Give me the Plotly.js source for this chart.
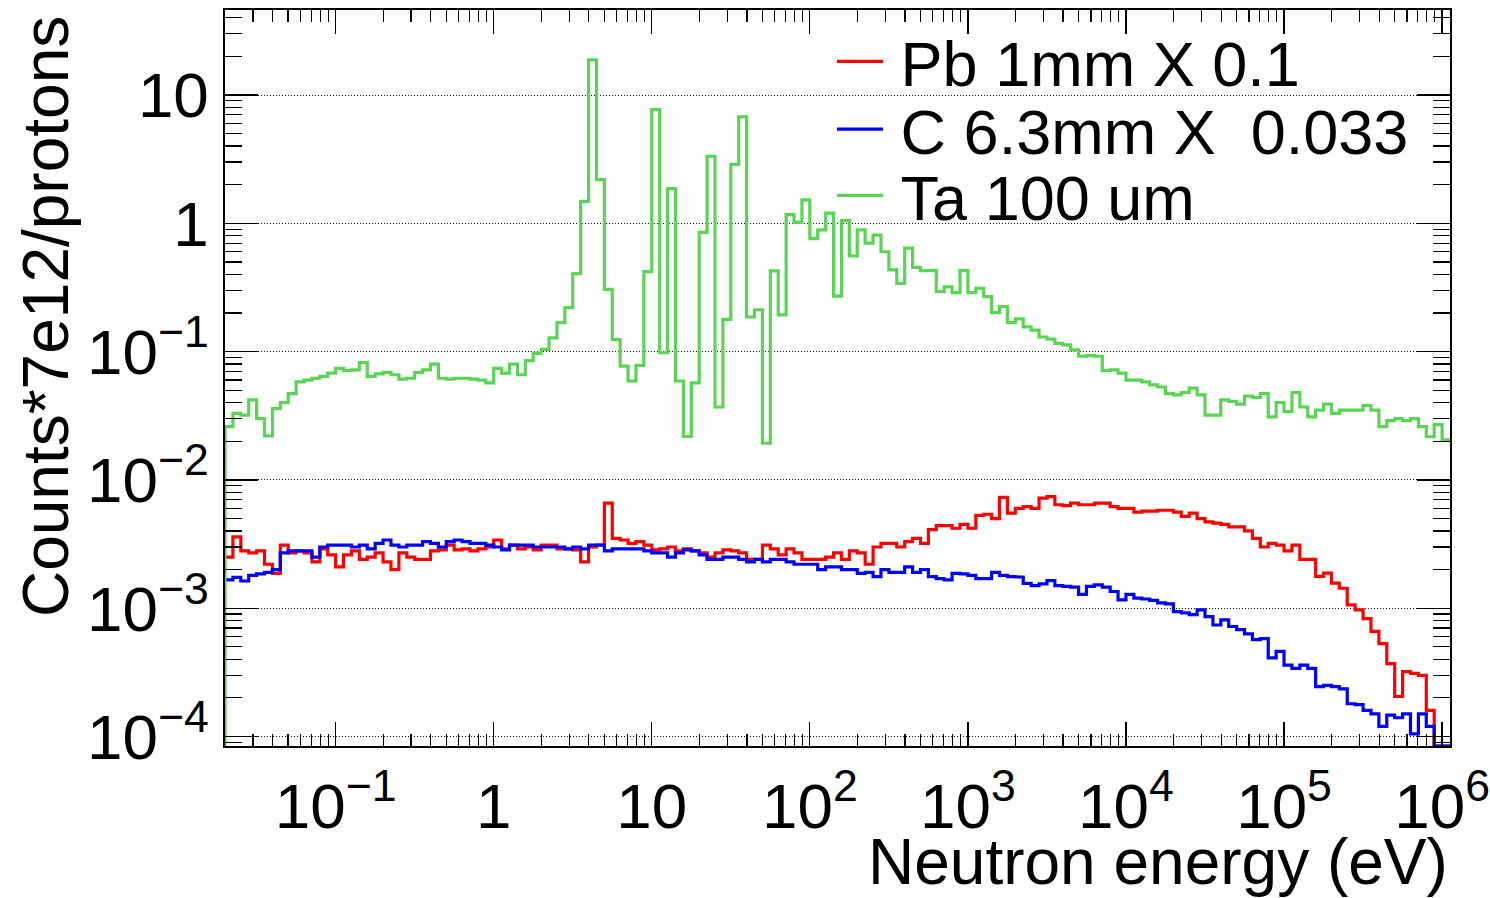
<!DOCTYPE html>
<html><head><meta charset="utf-8">
<script src="https://cdn.plot.ly/plotly-3.0.1.min.js"></script>
<style>html,body{margin:0;padding:0;background:#fff;} #chart{width:1490px;height:898px;}</style>
</head><body><div id="chart"></div>
<script>
// Histogram binning: 20 logarithmic bins per decade, first edge at 0.02 eV
const binLogStart = -1.70;
const binLogStep = 0.05;

const seriesNames = ['\u2009Pb 1mm X 0.1', '\u2009C 6.3mm X\u00a0 0.033', '\u2009Ta 100 um'];
const seriesColors = ['#ff0000', '#0000ff', '#59d454'];

// Counts*7e12/protons per bin
const pb = [
0.0025,0.0036,0.0028,0.0027,0.0028,0.0022,0.00187,0.0031,0.0027,0.0028,
0.0027,0.0023,0.0029,0.0026,0.0021,0.0026,0.0028,0.0024,0.0025,0.0027,
0.0023,0.0020,0.0027,0.0025,0.0024,0.0024,0.0028,0.00285,0.0031,0.00285,
0.0029,0.0028,0.0029,0.0030,0.0034,0.0029,0.0031,0.0029,0.0030,0.00285,
0.0031,0.0031,0.0029,0.0029,0.00285,0.0023,0.0030,0.0031,0.0066,0.0035,
0.0034,0.0032,0.0033,0.0031,0.00285,0.0029,0.0030,0.0028,0.0029,0.0028,
0.0027,0.0025,0.0027,0.00285,0.0028,0.0027,0.0024,0.0024,0.0031,0.0029,
0.0026,0.0029,0.0027,0.0024,0.0024,0.0024,0.0025,0.0027,0.0024,0.0028,
0.0027,0.0022,0.0030,0.0032,0.0032,0.0030,0.0033,0.0035,0.0032,0.0041,
0.0044,0.0044,0.0042,0.0045,0.0042,0.0053,0.0054,0.0050,0.0073,0.0055,
0.0060,0.0062,0.0060,0.0072,0.0074,0.0064,0.0063,0.0066,0.0064,0.0064,
0.0066,0.0066,0.0062,0.0060,0.0060,0.0056,0.0057,0.0057,0.0058,0.0058,
0.0056,0.0052,0.0055,0.0050,0.0047,0.0046,0.0045,0.0043,0.0043,0.0040,
0.0035,0.0030,0.0032,0.0031,0.0028,0.0031,0.0024,0.0024,0.00177,0.00188,
0.00157,0.00143,0.00106,0.00097,0.00083,0.00066,0.00053,0.00037,0.000205,0.00032,
0.00031,0.00030,0.00016,0,0
];
const c = [
0.00166,0.00174,0.00163,0.0018,0.00185,0.0019,0.0020,0.0027,0.0028,0.0028,
0.0028,0.0025,0.0030,0.0031,0.0031,0.0031,0.0030,0.0031,0.0029,0.0032,
0.0034,0.0031,0.0030,0.0031,0.0031,0.0033,0.0032,0.0030,0.0033,0.0034,
0.0033,0.0032,0.0032,0.0031,0.0030,0.00285,0.0031,0.0031,0.0031,0.0030,
0.0030,0.0030,0.0030,0.0029,0.0030,0.0029,0.0031,0.0031,0.0028,0.0029,
0.0029,0.0029,0.0029,0.0028,0.0027,0.0027,0.0025,0.0027,0.00285,0.0028,
0.0026,0.0024,0.0024,0.0025,0.0025,0.0024,0.0023,0.0024,0.0023,0.0024,
0.0024,0.0023,0.0022,0.0022,0.0022,0.0020,0.0021,0.0021,0.0020,0.0020,
0.00187,0.0019,0.00176,0.0020,0.0019,0.0019,0.0021,0.0019,0.0020,0.00176,
0.0017,0.00166,0.00187,0.00185,0.0018,0.0017,0.0017,0.0019,0.0018,0.00176,
0.00175,0.00156,0.0015,0.00155,0.00164,0.0015,0.00148,0.00146,0.00128,0.00148,
0.00152,0.00146,0.00135,0.00116,0.00128,0.0012,0.00118,0.00115,0.0011,0.00108,
0.00094,0.00092,0.00089,0.00097,0.00086,0.00074,0.00081,0.00072,0.00068,0.00063,
0.00057,0.00058,0.00041,0.00046,0.00036,0.00034,0.00036,0.00034,0.000245,0.00025,
0.000245,0.000235,0.00018,0.000177,0.00016,0.00015,0.00012,0.000147,0.00014,0.00015,
0.000105,0.00015,0.00012,0,0
];
const ta = [
0.026,0.033,0.032,0.042,0.030,0.022,0.036,0.040,0.047,0.058,
0.060,0.062,0.064,0.068,0.074,0.071,0.072,0.082,0.064,0.067,
0.069,0.066,0.061,0.062,0.069,0.072,0.080,0.062,0.061,0.062,
0.062,0.061,0.060,0.057,0.074,0.068,0.080,0.066,0.085,0.097,
0.104,0.128,0.168,0.22,0.405,1.48,18.8,2.19,0.306,0.124,
0.077,0.059,0.078,0.42,7.7,0.098,1.86,0.059,0.0218,0.057,
0.85,3.33,0.037,0.178,2.88,6.77,0.186,0.212,0.0193,0.426,
0.193,1.17,1.02,1.52,0.76,0.89,1.2,0.271,1.05,0.556,
0.89,0.70,0.81,0.60,0.433,0.34,0.64,0.454,0.428,0.428,
0.293,0.32,0.288,0.428,0.288,0.311,0.268,0.201,0.224,0.168,
0.18,0.156,0.147,0.13,0.125,0.116,0.113,0.103,0.092,0.093,
0.092,0.071,0.072,0.068,0.060,0.060,0.058,0.055,0.053,0.047,
0.046,0.048,0.052,0.046,0.032,0.032,0.042,0.041,0.039,0.045,
0.044,0.047,0.031,0.040,0.034,0.048,0.037,0.031,0.035,0.039,
0.033,0.035,0.035,0.035,0.038,0.035,0.026,0.029,0.030,0.029,
0.030,0.026,0.0217,0.027,0.0205
];

const xRange = [-1.70, 6.05];
const yRange = [-4.074, 1.6625];
const FONT = 'Liberation Sans, Arial, Helvetica, sans-serif';

function edge(i) { return Math.pow(10, binLogStart + i * binLogStep); }

function stepTrace(vals, name, color, legendId, dropStart) {
  const floor = Math.pow(10, yRange[0]);
  const xs = [], ys = [];
  if (dropStart) { xs.push(edge(0)); ys.push(floor); }
  vals.forEach(function (v, i) { xs.push(edge(i)); ys.push(v > 0 ? v : floor); });
  const last = vals[vals.length - 1];
  xs.push(edge(vals.length)); ys.push(last > 0 ? last : floor);
  return {type: 'scatter', mode: 'lines', x: xs, y: ys, name: name, legend: legendId,
          line: {shape: 'hv', color: color, width: 3.2}, hoverinfo: 'skip', showlegend: true};
}

const traces = [
  stepTrace(pb, seriesNames[0], seriesColors[0], 'legend', false),
  stepTrace(c, seriesNames[1], seriesColors[1], 'legend2', false),
  stepTrace(ta, seriesNames[2], seriesColors[2], 'legend3', true)
];

function legendAt(yPaper) {
  return {x: 0.4955, y: yPaper, xanchor: 'left', yanchor: 'middle', bgcolor: 'rgba(0,0,0,0)',
          borderwidth: 0, itemwidth: 46, font: {family: FONT, size: 63, color: '#000'}};
}

const axisCommon = {
  type: 'log', showline: true, linecolor: '#000', linewidth: 2, mirror: 'ticks',
  ticks: 'inside', tickcolor: '#000', tickwidth: 1.2, dtick: 1,
  exponentformat: 'power', zeroline: false,
  tickfont: {family: FONT, size: 51, color: '#000'}
};

const layout = {
  width: 1490, height: 898,
  margin: {l: 225, r: 40, t: 10, b: 152},
  paper_bgcolor: '#fff', plot_bgcolor: '#fff',
  font: {family: FONT, color: '#000'},
  showlegend: true,
  legend: legendAt(0.930),
  legend2: legendAt(0.838),
  legend3: legendAt(0.748),
  xaxis: Object.assign({}, axisCommon, {
    range: xRange, ticklen: 24, showgrid: false, ticklabelstandoff: 6,
    minor: {ticks: 'inside', ticklen: 12, tickwidth: 1.2, tickcolor: '#000', dtick: 'D1', showgrid: false}
  }),
  yaxis: Object.assign({}, axisCommon, {
    range: yRange, ticklen: 33, showgrid: true, gridcolor: '#111', gridwidth: 1, griddash: '1px,2px',
    ticklabelstandoff: 4,
    minor: {ticks: 'inside', ticklen: 17, tickwidth: 1.2, tickcolor: '#000', dtick: 'D1', showgrid: false}
  }),
  annotations: [
    {text: 'Neutron energy (eV)', xref: 'paper', yref: 'paper', x: 1, y: -0.158,
     xanchor: 'right', yanchor: 'middle', showarrow: false, font: {family: FONT, size: 64, color: '#000'}},
    {text: 'Counts*7e12/protons', xref: 'paper', yref: 'paper', x: -0.1462, y: 0.5840,
     xanchor: 'center', yanchor: 'middle', textangle: -90, showarrow: false,
     font: {family: FONT, size: 64, color: '#000'}}
  ]
};

Plotly.newPlot('chart', traces, layout, {displayModeBar: false, staticPlot: true});
</script>
</body></html>
